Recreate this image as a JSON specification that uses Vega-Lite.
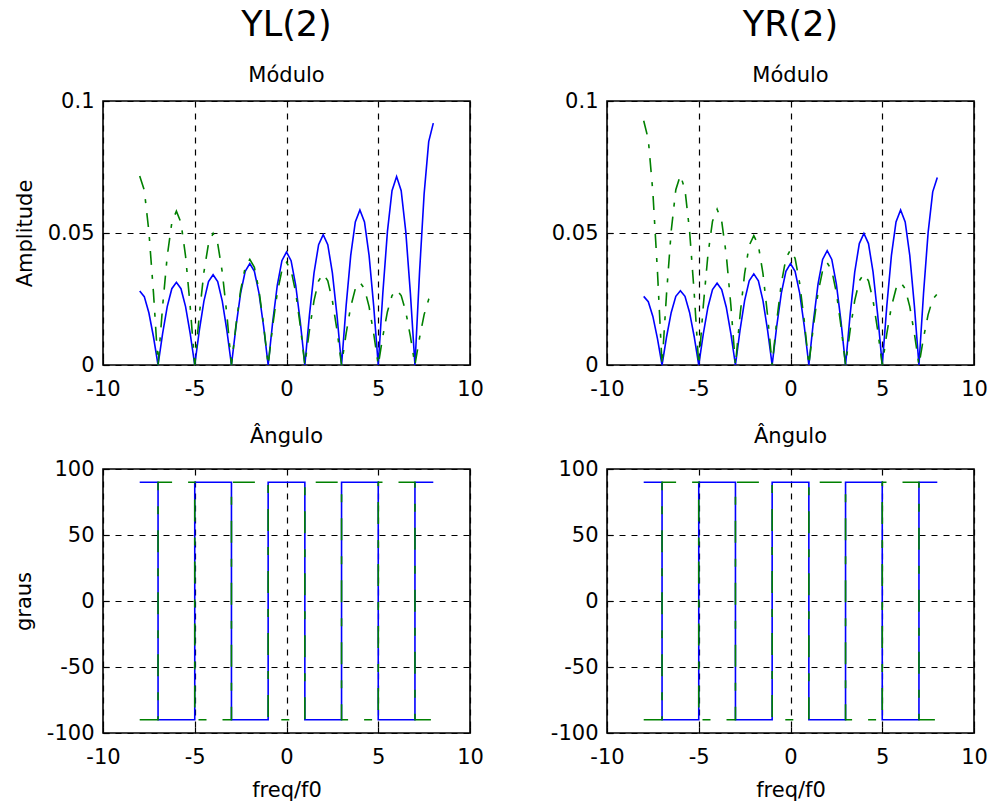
{
  "$schema": "https://vega.github.io/schema/vega-lite/v6.json",
  "background": "white",
  "autosize": {"type": "pad"},
  "padding": {"left": 12, "top": 7, "right": 0, "bottom": 0},
  "datasets": {
    "modulo": [
      {"f": -8, "yl_blue": 0.028, "yl_green": 0.0716, "yr_blue": 0.026, "yr_green": 0.0925},
      {"f": -7.75, "yl_blue": 0.0259, "yl_green": 0.0662, "yr_blue": 0.024, "yr_green": 0.0855},
      {"f": -7.5, "yl_blue": 0.0198, "yl_green": 0.0506, "yr_blue": 0.0184, "yr_green": 0.0654},
      {"f": -7.25, "yl_blue": 0.0107, "yl_green": 0.0274, "yr_blue": 0.01, "yr_green": 0.0354},
      {"f": -7, "yl_blue": 0, "yl_green": 0, "yr_blue": 0, "yr_green": 0},
      {"f": -6.75, "yl_blue": 0.012, "yl_green": 0.0223, "yr_blue": 0.0108, "yr_green": 0.0275},
      {"f": -6.5, "yl_blue": 0.0221, "yl_green": 0.0412, "yr_blue": 0.0199, "yr_green": 0.0508},
      {"f": -6.25, "yl_blue": 0.0289, "yl_green": 0.0539, "yr_blue": 0.026, "yr_green": 0.0664},
      {"f": -6, "yl_blue": 0.0313, "yl_green": 0.0583, "yr_blue": 0.0281, "yr_green": 0.0719},
      {"f": -5.75, "yl_blue": 0.0289, "yl_green": 0.0539, "yr_blue": 0.026, "yr_green": 0.0664},
      {"f": -5.5, "yl_blue": 0.0221, "yl_green": 0.0412, "yr_blue": 0.0199, "yr_green": 0.0508},
      {"f": -5.25, "yl_blue": 0.012, "yl_green": 0.0223, "yr_blue": 0.0108, "yr_green": 0.0275},
      {"f": -5, "yl_blue": 0, "yl_green": 0, "yr_blue": 0, "yr_green": 0},
      {"f": -4.75, "yl_blue": 0.0131, "yl_green": 0.0191, "yr_blue": 0.0119, "yr_green": 0.0226},
      {"f": -4.5, "yl_blue": 0.0242, "yl_green": 0.0352, "yr_blue": 0.0219, "yr_green": 0.0417},
      {"f": -4.25, "yl_blue": 0.0316, "yl_green": 0.046, "yr_blue": 0.0286, "yr_green": 0.0545},
      {"f": -4, "yl_blue": 0.0342, "yl_green": 0.0498, "yr_blue": 0.031, "yr_green": 0.059},
      {"f": -3.75, "yl_blue": 0.0316, "yl_green": 0.046, "yr_blue": 0.0286, "yr_green": 0.0545},
      {"f": -3.5, "yl_blue": 0.0242, "yl_green": 0.0352, "yr_blue": 0.0219, "yr_green": 0.0417},
      {"f": -3.25, "yl_blue": 0.0131, "yl_green": 0.0191, "yr_blue": 0.0119, "yr_green": 0.0226},
      {"f": -3, "yl_blue": 0, "yl_green": 0, "yr_blue": 0, "yr_green": 0},
      {"f": -2.75, "yl_blue": 0.0147, "yl_green": 0.0153, "yr_blue": 0.0132, "yr_green": 0.0188},
      {"f": -2.5, "yl_blue": 0.0272, "yl_green": 0.0283, "yr_blue": 0.0244, "yr_green": 0.0346},
      {"f": -2.25, "yl_blue": 0.0355, "yl_green": 0.037, "yr_blue": 0.0319, "yr_green": 0.0453},
      {"f": -2, "yl_blue": 0.0384, "yl_green": 0.04, "yr_blue": 0.0345, "yr_green": 0.049},
      {"f": -1.75, "yl_blue": 0.0355, "yl_green": 0.037, "yr_blue": 0.0319, "yr_green": 0.0453},
      {"f": -1.5, "yl_blue": 0.0272, "yl_green": 0.0283, "yr_blue": 0.0244, "yr_green": 0.0346},
      {"f": -1.25, "yl_blue": 0.0147, "yl_green": 0.0153, "yr_blue": 0.0132, "yr_green": 0.0188},
      {"f": -1, "yl_blue": 0, "yl_green": 0, "yr_blue": 0, "yr_green": 0},
      {"f": -0.75, "yl_blue": 0.0164, "yl_green": 0.0149, "yr_blue": 0.0147, "yr_green": 0.0167},
      {"f": -0.5, "yl_blue": 0.0303, "yl_green": 0.0275, "yr_blue": 0.0272, "yr_green": 0.0309},
      {"f": -0.25, "yl_blue": 0.0395, "yl_green": 0.0359, "yr_blue": 0.0355, "yr_green": 0.0404},
      {"f": 0, "yl_blue": 0.0428, "yl_green": 0.0389, "yr_blue": 0.0384, "yr_green": 0.0437},
      {"f": 0.25, "yl_blue": 0.0395, "yl_green": 0.0359, "yr_blue": 0.0355, "yr_green": 0.0404},
      {"f": 0.5, "yl_blue": 0.0303, "yl_green": 0.0275, "yr_blue": 0.0272, "yr_green": 0.0309},
      {"f": 0.75, "yl_blue": 0.0164, "yl_green": 0.0149, "yr_blue": 0.0147, "yr_green": 0.0167},
      {"f": 1, "yl_blue": 0, "yl_green": 0, "yr_blue": 0, "yr_green": 0},
      {"f": 1.25, "yl_blue": 0.0189, "yl_green": 0.0132, "yr_blue": 0.0166, "yr_green": 0.0148},
      {"f": 1.5, "yl_blue": 0.0349, "yl_green": 0.0244, "yr_blue": 0.0306, "yr_green": 0.0274},
      {"f": 1.75, "yl_blue": 0.0456, "yl_green": 0.0319, "yr_blue": 0.04, "yr_green": 0.0358},
      {"f": 2, "yl_blue": 0.0494, "yl_green": 0.0345, "yr_blue": 0.0433, "yr_green": 0.0387},
      {"f": 2.25, "yl_blue": 0.0456, "yl_green": 0.0319, "yr_blue": 0.04, "yr_green": 0.0358},
      {"f": 2.5, "yl_blue": 0.0349, "yl_green": 0.0244, "yr_blue": 0.0306, "yr_green": 0.0274},
      {"f": 2.75, "yl_blue": 0.0189, "yl_green": 0.0132, "yr_blue": 0.0166, "yr_green": 0.0148},
      {"f": 3, "yl_blue": 0, "yl_green": 0, "yr_blue": 0, "yr_green": 0},
      {"f": 3.25, "yl_blue": 0.0225, "yl_green": 0.012, "yr_blue": 0.0191, "yr_green": 0.0132},
      {"f": 3.5, "yl_blue": 0.0415, "yl_green": 0.0221, "yr_blue": 0.0352, "yr_green": 0.0244},
      {"f": 3.75, "yl_blue": 0.0542, "yl_green": 0.0289, "yr_blue": 0.046, "yr_green": 0.0319},
      {"f": 4, "yl_blue": 0.0587, "yl_green": 0.0313, "yr_blue": 0.0498, "yr_green": 0.0345},
      {"f": 4.25, "yl_blue": 0.0542, "yl_green": 0.0289, "yr_blue": 0.046, "yr_green": 0.0319},
      {"f": 4.5, "yl_blue": 0.0415, "yl_green": 0.0221, "yr_blue": 0.0352, "yr_green": 0.0244},
      {"f": 4.75, "yl_blue": 0.0225, "yl_green": 0.012, "yr_blue": 0.0191, "yr_green": 0.0132},
      {"f": 5, "yl_blue": 0, "yl_green": 0, "yr_blue": 0, "yr_green": 0},
      {"f": 5.25, "yl_blue": 0.0273, "yl_green": 0.0109, "yr_blue": 0.0225, "yr_green": 0.012},
      {"f": 5.5, "yl_blue": 0.0505, "yl_green": 0.0202, "yr_blue": 0.0415, "yr_green": 0.0221},
      {"f": 5.75, "yl_blue": 0.066, "yl_green": 0.0263, "yr_blue": 0.0542, "yr_green": 0.0289},
      {"f": 6, "yl_blue": 0.0714, "yl_green": 0.0285, "yr_blue": 0.0587, "yr_green": 0.0313},
      {"f": 6.25, "yl_blue": 0.066, "yl_green": 0.0263, "yr_blue": 0.0542, "yr_green": 0.0289},
      {"f": 6.5, "yl_blue": 0.0505, "yl_green": 0.0202, "yr_blue": 0.0415, "yr_green": 0.0221},
      {"f": 6.75, "yl_blue": 0.0273, "yl_green": 0.0109, "yr_blue": 0.0225, "yr_green": 0.012},
      {"f": 7, "yl_blue": 0, "yl_green": 0, "yr_blue": 0, "yr_green": 0},
      {"f": 7.25, "yl_blue": 0.0351, "yl_green": 0.0103, "yr_blue": 0.0272, "yr_green": 0.0103},
      {"f": 7.5, "yl_blue": 0.0648, "yl_green": 0.0191, "yr_blue": 0.0502, "yr_green": 0.0191},
      {"f": 7.75, "yl_blue": 0.0846, "yl_green": 0.0249, "yr_blue": 0.0656, "yr_green": 0.0249},
      {"f": 8, "yl_blue": 0.0916, "yl_green": 0.027, "yr_blue": 0.071, "yr_green": 0.027}
    ],
    "angulo": [
      {"f": -8, "yl_blue": 90, "yl_green": -90, "yr_blue": 90, "yr_green": -90},
      {"f": -7, "yl_blue": -90, "yl_green": 90, "yr_blue": -90, "yr_green": 90},
      {"f": -5, "yl_blue": 90, "yl_green": -90, "yr_blue": 90, "yr_green": -90},
      {"f": -3, "yl_blue": -90, "yl_green": 90, "yr_blue": -90, "yr_green": 90},
      {"f": -1, "yl_blue": 90, "yl_green": -90, "yr_blue": 90, "yr_green": -90},
      {"f": 1, "yl_blue": -90, "yl_green": 90, "yr_blue": -90, "yr_green": 90},
      {"f": 3, "yl_blue": 90, "yl_green": -90, "yr_blue": 90, "yr_green": -90},
      {"f": 5, "yl_blue": -90, "yl_green": 90, "yr_blue": -90, "yr_green": 90},
      {"f": 7, "yl_blue": 90, "yl_green": -90, "yr_blue": 90, "yr_green": -90},
      {"f": 8, "yl_blue": 90, "yl_green": -90, "yr_blue": 90, "yr_green": -90}
    ]
  },
  "config": {
    "font": "DejaVu Sans",
    "view": {"stroke": "black", "strokeWidth": 1.6},
    "axis": {
      "domain": false,
      "grid": true,
      "gridColor": "black",
      "gridDash": [6, 6],
      "gridWidth": 1.2,
      "gridOpacity": 1,
      "ticks": true,
      "tickColor": "black",
      "tickWidth": 1.2,
      "tickSize": -6,
      "labelFont": "DejaVu Sans",
      "labelFontSize": 21,
      "labelColor": "black",
      "labelFlush": false,
      "labelOverlap": false,
      "titleFont": "DejaVu Sans",
      "titleFontSize": 21,
      "titleFontWeight": "normal",
      "titleColor": "black",
      "labelExpr": "'' + datum.value"
    },
    "axisX": {"labelPadding": 19, "titlePadding": 12},
    "axisY": {"labelPadding": 15, "titlePadding": 12},
    "title": {
      "font": "DejaVu Sans",
      "fontSize": 35,
      "fontWeight": "normal",
      "color": "black",
      "subtitleFont": "DejaVu Sans",
      "subtitleFontSize": 21,
      "subtitleColor": "black",
      "anchor": "middle"
    }
  },
  "columns": 2,
  "spacing": {"row": 104, "column": 137},
  "bounds": "flush",
  "concat": [
    {
      "width": 367,
      "height": 264,
      "title": {"text": "YL(2)", "subtitle": "Módulo", "offset": 4, "subtitlePadding": 22},
      "data": {"name": "modulo"},
      "layer": [
        {
          "mark": {"type": "line", "color": "#0000ff", "strokeWidth": 1.6},
          "encoding": {
            "x": {"field": "f", "type": "quantitative", "scale": {"domain": [-10, 10], "nice": false}, "axis": {"values": [-10, -5, 0, 5, 10], "title": null}},
            "y": {"field": "yl_blue", "type": "quantitative", "scale": {"domain": [0, 0.1], "nice": false}, "axis": {"values": [0, 0.05, 0.1], "title": "Amplitude"}}
          }
        },
        {
          "mark": {"type": "line", "color": "#008000", "strokeWidth": 1.6, "strokeDash": [14, 10, 4, 10]},
          "encoding": {
            "x": {"field": "f", "type": "quantitative"},
            "y": {"field": "yl_green", "type": "quantitative"}
          }
        }
      ]
    },
    {
      "width": 367,
      "height": 264,
      "title": {"text": "YR(2)", "subtitle": "Módulo", "offset": 4, "subtitlePadding": 22},
      "data": {"name": "modulo"},
      "layer": [
        {
          "mark": {"type": "line", "color": "#0000ff", "strokeWidth": 1.6},
          "encoding": {
            "x": {"field": "f", "type": "quantitative", "scale": {"domain": [-10, 10], "nice": false}, "axis": {"values": [-10, -5, 0, 5, 10], "title": null}},
            "y": {"field": "yr_blue", "type": "quantitative", "scale": {"domain": [0, 0.1], "nice": false}, "axis": {"values": [0, 0.05, 0.1], "title": null}}
          }
        },
        {
          "mark": {"type": "line", "color": "#008000", "strokeWidth": 1.6, "strokeDash": [14, 10, 4, 10]},
          "encoding": {
            "x": {"field": "f", "type": "quantitative"},
            "y": {"field": "yr_green", "type": "quantitative"}
          }
        }
      ]
    },
    {
      "width": 367,
      "height": 264,
      "title": {"text": "Ângulo", "fontSize": 21, "offset": 11},
      "data": {"name": "angulo"},
      "layer": [
        {
          "mark": {"type": "line", "color": "#0000ff", "strokeWidth": 1.6, "interpolate": "step-after"},
          "encoding": {
            "x": {"field": "f", "type": "quantitative", "scale": {"domain": [-10, 10], "nice": false}, "axis": {"values": [-10, -5, 0, 5, 10], "title": "freq/f0"}},
            "y": {"field": "yl_blue", "type": "quantitative", "scale": {"domain": [-100, 100], "nice": false}, "axis": {"values": [-100, -50, 0, 50, 100], "title": "graus"}}
          }
        },
        {
          "mark": {"type": "line", "color": "#008000", "strokeWidth": 1.6, "interpolate": "step-after", "strokeDash": [22, 16, 8, 16]},
          "encoding": {
            "x": {"field": "f", "type": "quantitative"},
            "y": {"field": "yl_green", "type": "quantitative"}
          }
        }
      ]
    },
    {
      "width": 367,
      "height": 264,
      "title": {"text": "Ângulo", "fontSize": 21, "offset": 11},
      "data": {"name": "angulo"},
      "layer": [
        {
          "mark": {"type": "line", "color": "#0000ff", "strokeWidth": 1.6, "interpolate": "step-after"},
          "encoding": {
            "x": {"field": "f", "type": "quantitative", "scale": {"domain": [-10, 10], "nice": false}, "axis": {"values": [-10, -5, 0, 5, 10], "title": "freq/f0"}},
            "y": {"field": "yr_blue", "type": "quantitative", "scale": {"domain": [-100, 100], "nice": false}, "axis": {"values": [-100, -50, 0, 50, 100], "title": null}}
          }
        },
        {
          "mark": {"type": "line", "color": "#008000", "strokeWidth": 1.6, "interpolate": "step-after", "strokeDash": [22, 16, 8, 16]},
          "encoding": {
            "x": {"field": "f", "type": "quantitative"},
            "y": {"field": "yr_green", "type": "quantitative"}
          }
        }
      ]
    }
  ]
}
